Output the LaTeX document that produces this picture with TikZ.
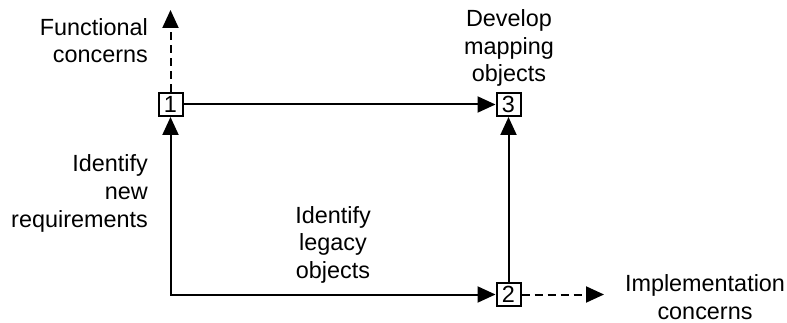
\documentclass[tikz,border=0pt]{standalone}
\usepackage{fontspec}
\setmainfont{Liberation Sans}
\usetikzlibrary{arrows.meta}
\begin{document}
\begin{tikzpicture}[x=1pt,y=-1pt,
  every node/.style={font=\fontsize{23.4}{27.5}\selectfont},
  numbox/.style={draw,line width=2pt,minimum width=24pt,minimum height=23pt,inner sep=0pt},
  label/.style={inner sep=0pt},
  conn/.style={line width=2pt,-{Triangle[length=18pt,width=16pt]}},
  dconn/.style={conn,dash pattern=on 8pt off 5pt}]
\useasboundingbox (0,0) rectangle (787,323);
\node[numbox] (n1) at (170.5,104.5) {1};
\node[numbox] (n3) at (508.5,104.5) {3};
\node[numbox] (n2) at (508.5,294.5) {2};
\coordinate (top) at (170.5,10);
\coordinate (right) at (604,294.5);
\draw[conn] (n1.east) -- (n3.west);
\draw[conn] (n2.north) -- (n3.south);
\draw[line width=2pt,{Triangle[length=18pt,width=16pt]}-{Triangle[length=18pt,width=16pt]}] (n1.south) |- (n2.west);
\draw[dconn] (n1.north) -- (top);
\draw[dconn] (n2.east) -- (right);
\node[label,align=right,anchor=base east] (fc) at (148,63) {Functional\\concerns};
\node[label,align=center,anchor=base] (dm) at (509,82) {Develop\\mapping\\objects};
\node[label,align=right,anchor=base east] (inr) at (148,227) {Identify\\new\\requirements};
\node[label,align=center,anchor=base] (ilo) at (333,278) {Identify\\legacy\\objects};
\node[label,align=center,anchor=base] (ic) at (705,319) {Implementation\\concerns};
\end{tikzpicture}
\end{document}
